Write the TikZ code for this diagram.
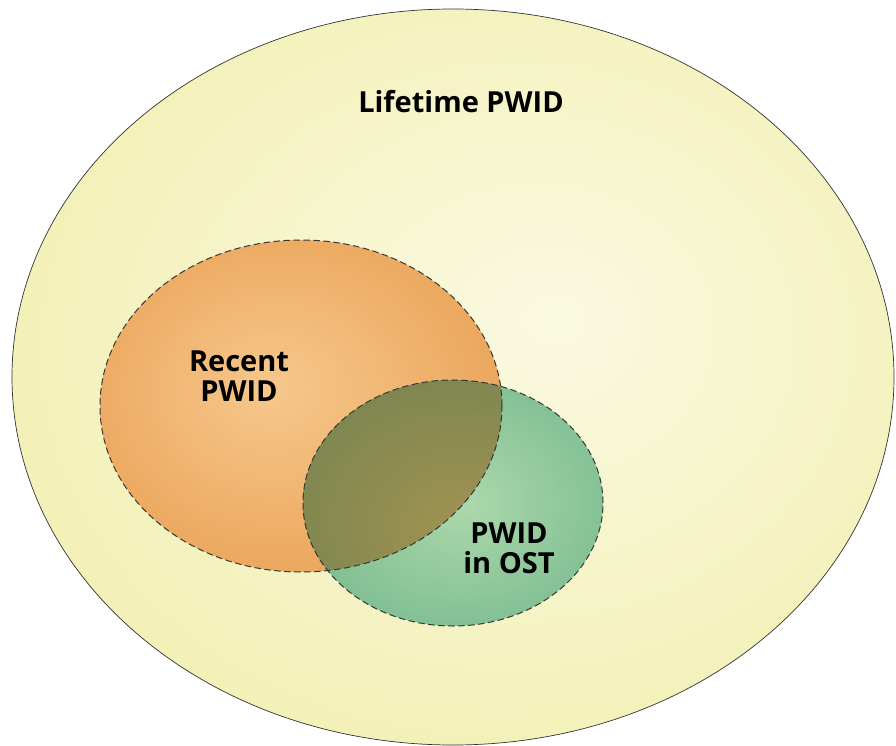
\documentclass[tikz,border=0pt]{standalone}
\usepackage{fontspec}
\setmainfont{Open Sans}
\definecolor{ycen}{RGB}{250,249,226}
\definecolor{yedge}{RGB}{243,241,183}
\definecolor{ocen}{RGB}{246,200,140}
\definecolor{oedge}{RGB}{234,163,88}
\definecolor{gcen}{RGB}{172,216,172}
\definecolor{gedge}{RGB}{122,188,143}
\definecolor{vcen}{RGB}{162,147,82}
\definecolor{vedge}{RGB}{124,134,80}
\definecolor{lineg}{RGB}{55,55,55}
\pgfdeclareradialshading{yellowsh}{\pgfpoint{6bp}{4bp}}{color(0bp)=(ycen); color(28bp)=(yedge); color(50bp)=(yedge)}
\pgfdeclareradialshading{orangesh}{\pgfpoint{-4bp}{3bp}}{color(0bp)=(ocen); color(30bp)=(oedge); color(50bp)=(oedge)}
\pgfdeclareradialshading{greensh}{\pgfpoint{2bp}{0bp}}{color(0bp)=(gcen); color(30bp)=(gedge); color(50bp)=(gedge)}
\pgfdeclareradialshading{olivesh}{\pgfpoint{2bp}{-6bp}}{color(0bp)=(vcen); color(30bp)=(vedge); color(50bp)=(vedge)}
\begin{document}
\begin{tikzpicture}[x=1pt,y=-1pt,
  setline/.style={draw=lineg, line width=1pt, dash pattern=on 6.5pt off 3.5pt},
  lbl/.style={font=\fontsize{29}{30}\selectfont\bfseries, text=black, align=center, inner sep=0pt}]
\useasboundingbox (0,0) rectangle (896,746);
\coordinate (cOut) at (453,377);
\coordinate (cRec) at (301,406);
\coordinate (cOst) at (453,503);
% outer
\shade[shading=yellowsh] (cOut) ellipse [x radius=441pt, y radius=368pt];
\draw[draw=black!80, line width=0.7pt] (cOut) ellipse [x radius=441pt, y radius=368pt];
% recent
\shade[shading=orangesh] (cRec) ellipse [x radius=201pt, y radius=166pt];
% ost
\shade[shading=greensh] (cOst) ellipse [x radius=150pt, y radius=123pt];
% overlap
\begin{scope}
  \clip (cRec) ellipse [x radius=201pt, y radius=166pt];
  \shade[shading=olivesh] (cOst) ellipse [x radius=150pt, y radius=123pt];
\end{scope}
\draw[setline] (cRec) ellipse [x radius=201pt, y radius=166pt];
\draw[setline] (cOst) ellipse [x radius=150pt, y radius=123pt];
% labels
\node[lbl] (tLife) at (461,102) {Lifetime PWID};
\node[lbl] (tRec) at (239,376) {Recent\\PWID};
\node[lbl] (tOst) at (509,548) {PWID\\in OST};
\end{tikzpicture}
\end{document}
